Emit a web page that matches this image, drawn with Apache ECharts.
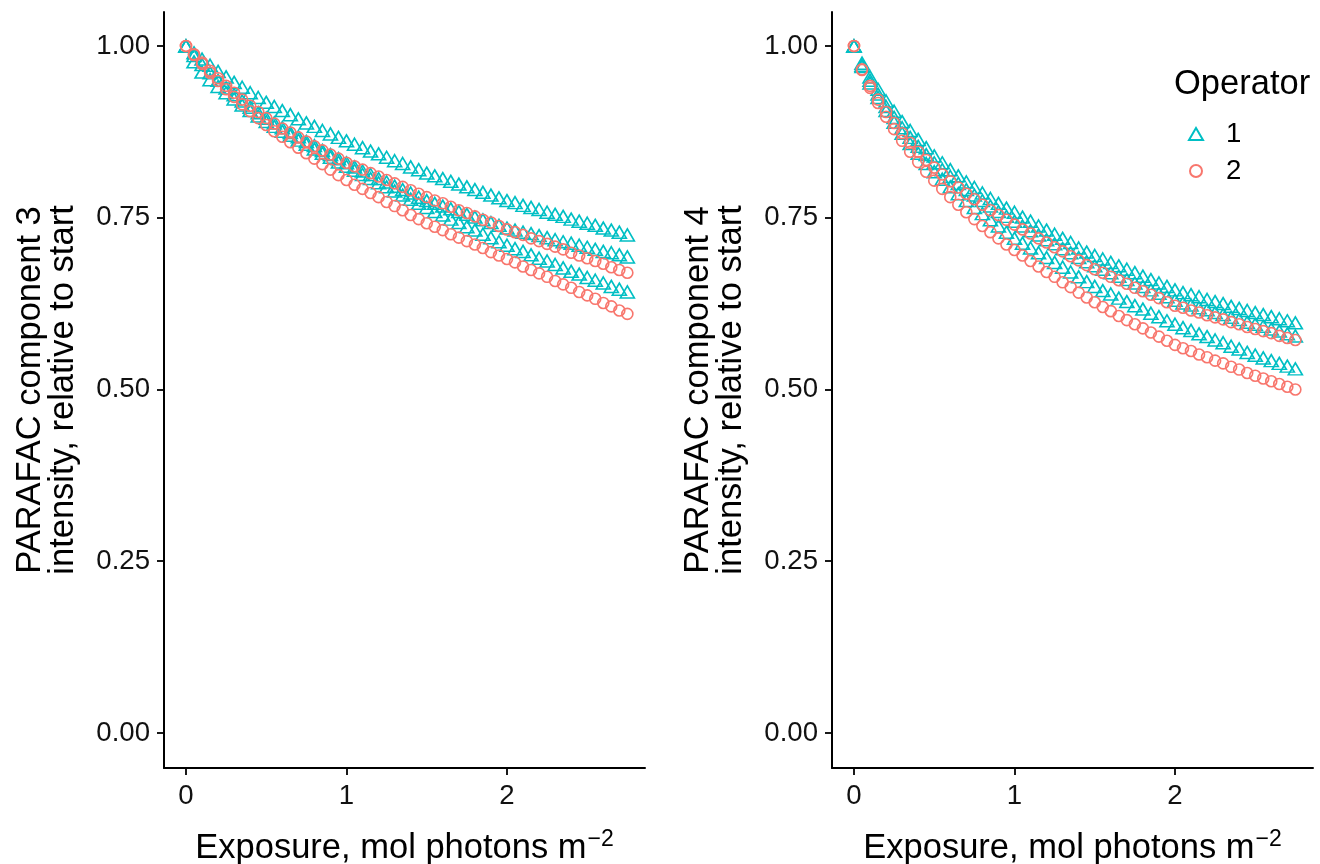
<!DOCTYPE html>
<html>
<head>
<meta charset="utf-8">
<script src="https://cdn.jsdelivr.net/npm/echarts@6/dist/echarts.min.js"></script>
<style>
html,body{margin:0;padding:0;background:#fff;}
#chart{width:1320px;height:864px;}
</style>
</head>
<body>
<div id="chart"></div>
<script>
// ---------- data ----------
const exposure = [0,0.05,0.1,0.15,0.2,0.25,0.3,0.35,0.4,0.45,0.5,0.55,0.6,0.65,0.7,0.75,0.8,0.85,0.9,0.95,
  1,1.05,1.1,1.15,1.2,1.25,1.3,1.35,1.4,1.45,1.5,1.55,1.6,1.65,1.7,1.75,1.8,1.85,1.9,1.95,
  2,2.05,2.1,2.15,2.2,2.25,2.3,2.35,2.4,2.45,2.5,2.55,2.6,2.65,2.7,2.75];

// Component 3 (left panel)
const c3_op1_a = [1,0.990,0.981,0.972,0.963,0.955,0.947,0.940,0.932,0.925,0.918,0.912,0.906,0.900,0.894,0.888,0.883,0.877,0.872,0.867,
  0.862,0.857,0.852,0.847,0.843,0.838,0.833,0.829,0.824,0.820,0.815,0.811,0.807,0.803,0.799,0.795,0.791,0.787,0.783,0.779,
  0.775,0.772,0.768,0.765,0.762,0.758,0.755,0.752,0.748,0.745,0.742,0.739,0.735,0.732,0.729,0.725];
const c3_op1_b = [1,0.986,0.973,0.961,0.950,0.939,0.929,0.920,0.911,0.903,0.895,0.888,0.881,0.874,0.868,0.861,0.855,0.848,0.842,0.836,
  0.830,0.824,0.818,0.813,0.807,0.802,0.796,0.791,0.786,0.780,0.775,0.771,0.767,0.763,0.759,0.755,0.751,0.747,0.743,0.739,
  0.735,0.732,0.729,0.727,0.724,0.721,0.718,0.715,0.713,0.710,0.707,0.704,0.701,0.699,0.696,0.693];
const c3_op1_c = [1,0.977,0.962,0.951,0.941,0.932,0.923,0.914,0.906,0.898,0.890,0.883,0.876,0.870,0.863,0.857,0.850,0.844,0.838,0.831,
  0.825,0.819,0.813,0.807,0.801,0.795,0.789,0.783,0.777,0.771,0.765,0.759,0.754,0.748,0.743,0.737,0.732,0.726,0.721,0.715,
  0.710,0.705,0.701,0.696,0.691,0.687,0.682,0.677,0.672,0.668,0.663,0.659,0.655,0.650,0.646,0.642];
const c3_op2_a = [1,0.988,0.976,0.964,0.953,0.942,0.932,0.922,0.913,0.904,0.895,0.887,0.880,0.874,0.867,0.861,0.854,0.848,0.842,0.836,
  0.830,0.825,0.820,0.815,0.810,0.805,0.800,0.795,0.790,0.785,0.780,0.775,0.771,0.766,0.761,0.757,0.752,0.747,0.743,0.738,
  0.733,0.729,0.725,0.720,0.716,0.712,0.708,0.704,0.699,0.695,0.691,0.687,0.683,0.678,0.674,0.670];
const c3_op2_b = [1,0.987,0.974,0.961,0.949,0.937,0.926,0.915,0.905,0.895,0.885,0.876,0.868,0.860,0.852,0.844,0.836,0.828,0.820,0.812,
  0.805,0.798,0.792,0.786,0.780,0.773,0.767,0.761,0.754,0.748,0.742,0.737,0.732,0.726,0.721,0.716,0.711,0.706,0.700,0.695,
  0.690,0.685,0.679,0.674,0.669,0.664,0.658,0.653,0.648,0.642,0.637,0.632,0.626,0.621,0.615,0.610];

// Component 4 (right panel)
const c4_op1_a = [1,0.975,0.955,0.937,0.920,0.905,0.890,0.877,0.864,0.852,0.840,0.830,0.820,0.811,0.802,0.794,0.786,0.778,0.771,0.764,
  0.758,0.751,0.745,0.738,0.732,0.726,0.720,0.714,0.706,0.700,0.695,0.690,0.685,0.680,0.675,0.670,0.665,0.660,0.655,0.650,
  0.645,0.641,0.638,0.635,0.631,0.628,0.625,0.621,0.618,0.615,0.612,0.609,0.606,0.603,0.600,0.597];
const c4_op1_b = [1,0.972,0.950,0.930,0.912,0.896,0.881,0.867,0.854,0.842,0.830,0.820,0.810,0.800,0.791,0.783,0.775,0.767,0.759,0.752,
  0.745,0.738,0.731,0.725,0.718,0.712,0.705,0.699,0.692,0.686,0.680,0.675,0.670,0.665,0.660,0.655,0.650,0.645,0.640,0.635,
  0.630,0.626,0.623,0.619,0.616,0.612,0.609,0.605,0.602,0.598,0.595,0.592,0.588,0.585,0.581,0.578];
const c4_op1_c = [1,0.970,0.946,0.925,0.906,0.889,0.873,0.858,0.844,0.829,0.817,0.806,0.795,0.785,0.775,0.765,0.756,0.747,0.738,0.729,
  0.720,0.713,0.706,0.699,0.692,0.685,0.678,0.671,0.664,0.657,0.650,0.644,0.639,0.633,0.628,0.622,0.617,0.611,0.606,0.600,
  0.595,0.590,0.586,0.581,0.577,0.572,0.568,0.563,0.559,0.554,0.550,0.546,0.542,0.538,0.534,0.530];
const c4_op2_a = [1,0.966,0.942,0.922,0.904,0.888,0.873,0.859,0.846,0.834,0.823,0.813,0.803,0.794,0.785,0.777,0.769,0.761,0.754,0.747,
  0.740,0.733,0.727,0.720,0.714,0.707,0.701,0.694,0.688,0.681,0.675,0.670,0.664,0.659,0.654,0.648,0.643,0.638,0.633,0.627,
  0.622,0.619,0.615,0.612,0.608,0.605,0.602,0.598,0.595,0.591,0.588,0.585,0.582,0.578,0.575,0.572];
const c4_op2_b = [1,0.965,0.939,0.917,0.897,0.879,0.862,0.846,0.831,0.817,0.804,0.792,0.780,0.769,0.758,0.748,0.738,0.729,0.720,0.711,
  0.703,0.695,0.687,0.679,0.671,0.664,0.656,0.649,0.641,0.634,0.627,0.620,0.614,0.607,0.601,0.595,0.589,0.583,0.577,0.571,
  0.565,0.560,0.556,0.551,0.547,0.542,0.538,0.533,0.529,0.524,0.520,0.516,0.512,0.508,0.504,0.500];

const xTicks = [0, 1, 2];
const yTicks = [0, 0.25, 0.5, 0.75, 1];
const operators = ['1', '2'];
const yTitles = ['PARAFAC component 3\nintensity, relative to start', 'PARAFAC component 4\nintensity, relative to start'];
const xTitle = 'Exposure, mol photons m{sup|\u22122}';

// ---------- chart ----------
const CYAN = '#00BFC4', RED = '#F8766D';
const FONT = 'Liberation Sans, Arial, Helvetica, sans-serif';
const TITLE_SIZE = 34.5, TICK_SIZE = 27.6;
const chart = echarts.init(document.getElementById('chart'), null, {renderer: 'canvas'});

function pairs(vals) { return exposure.map((x, i) => [x, vals[i]]); }

function mkSeries(name, vals, gi) {
  const isTri = name === '1';
  return {
    type: 'scatter', name: name, xAxisIndex: gi, yAxisIndex: gi,
    data: pairs(vals),
    symbol: isTri ? 'triangle' : 'circle',
    symbolSize: isTri ? [14, 12] : 11,
    itemStyle: {color: 'rgba(0,0,0,0)', borderColor: isTri ? CYAN : RED, borderWidth: 1.6, opacity: 1},
    emphasis: {disabled: true},
    silent: true
  };
}

const grids = [
  {left: 164, top: 12, width: 481, height: 756, containLabel: false, outerBoundsMode: 'none'},
  {left: 832, top: 12, width: 481, height: 756, containLabel: false, outerBoundsMode: 'none'}
];

const xAxes = [0, 1].map(i => ({
  type: 'value', gridIndex: i, min: -0.137, max: 2.86,
  splitLine: {show: false},
  axisLine: {show: true, onZero: false, lineStyle: {color: '#000', width: 2}},
  axisTick: {show: true, length: 7, lineStyle: {color: '#000', width: 1.8}, customValues: xTicks},
  axisLabel: {color: '#111', fontSize: TICK_SIZE, fontFamily: FONT, margin: 14, customValues: xTicks},
  name: xTitle, nameLocation: 'middle', nameGap: 60,
  nameTextStyle: {color: '#000', fontSize: TITLE_SIZE, fontFamily: FONT,
    rich: {sup: {fontSize: 23, fontFamily: FONT, color: '#000', padding: [0, 0, 17, 1]}}}
}));

const yAxes = [0, 1].map(i => ({
  type: 'value', gridIndex: i, min: -0.051, max: 1.0495,
  splitLine: {show: false},
  axisLine: {show: true, onZero: false, lineStyle: {color: '#000', width: 2}},
  axisTick: {show: true, length: 7, lineStyle: {color: '#000', width: 1.8}, customValues: yTicks},
  axisLabel: {color: '#111', fontSize: TICK_SIZE, fontFamily: FONT, margin: 14, customValues: yTicks,
    formatter: v => v.toFixed(2)},
  name: yTitles[i], nameLocation: 'middle', nameGap: 84, nameRotate: 90,
  nameTextStyle: {color: '#000', fontSize: TITLE_SIZE, fontFamily: FONT, lineHeight: 33}
}));

const series = [
  mkSeries('1', c3_op1_a, 0), mkSeries('1', c3_op1_b, 0), mkSeries('1', c3_op1_c, 0),
  mkSeries('2', c3_op2_a, 0), mkSeries('2', c3_op2_b, 0),
  mkSeries('1', c4_op1_a, 1), mkSeries('1', c4_op1_b, 1), mkSeries('1', c4_op1_c, 1),
  mkSeries('2', c4_op2_a, 1), mkSeries('2', c4_op2_b, 1)
];

chart.setOption({
  backgroundColor: '#fff',
  animation: false,
  title: {text: 'Operator', left: 1169, top: 62,
    textStyle: {color: '#000', fontSize: TITLE_SIZE, fontWeight: 'normal', fontFamily: FONT}},
  legend: {
    orient: 'vertical', left: 1183, top: 115, itemGap: 9, itemWidth: 14, itemHeight: 12,
    data: [{name: operators[0], icon: 'emptyTriangle', itemStyle: {color: CYAN, borderColor: CYAN, borderWidth: 1.6}},
           {name: operators[1], icon: 'emptyCircle', itemStyle: {color: RED, borderColor: RED, borderWidth: 1.6}}],
    textStyle: {color: '#000', fontSize: TICK_SIZE, fontFamily: FONT, padding: [0, 0, 0, 18]},
    selectedMode: false
  },
  grid: grids,
  xAxis: xAxes,
  yAxis: yAxes,
  series: series
});
</script>
</body>
</html>
